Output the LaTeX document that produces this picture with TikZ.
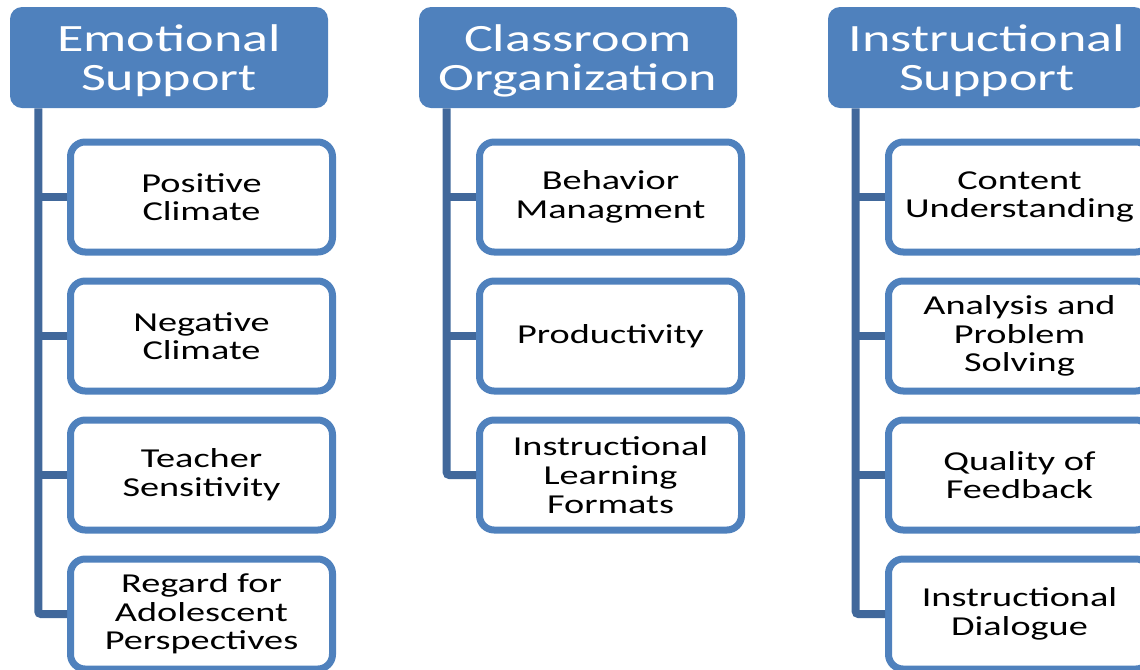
\documentclass[tikz,border=0pt]{standalone}
\usepackage{fontspec}
\setmainfont[FakeStretch=1.4]{Carlito}
\usetikzlibrary{positioning}
\definecolor{boxblue}{HTML}{4F81BD}
\definecolor{linkblue}{HTML}{41689B}

\begin{document}
\begin{tikzpicture}[x=0.75pt,y=-0.75pt,
    head/.style={fill=boxblue, rounded corners=9pt, minimum width=238.5pt, minimum height=75.75pt,
        inner sep=0pt, align=center, text=white, text depth=0pt,
        font=\fontsize{29}{29.5}\selectfont},
    item/.style={draw=boxblue, line width=5.25pt, fill=white, rounded corners=11pt,
        minimum width=196.5pt, minimum height=82.5pt, inner sep=0pt, align=center,
        font=\fontsize{20.5}{21.5}\selectfont},
    conn/.style={draw=linkblue, line width=6pt, rounded corners=2pt}]
        \clip (0,0) rectangle (1140,669);
        % headers
        \node[head] (es) at (169,57.5) {Emotional\\Support};
        \node[head] (co) at (578,57.5) {Classroom\\Organization};
        \node[head] (is) at (987,57.5) {Instructional\\Support};
        % drop points of the connectors
        \coordinate (es-c) at ([xshift=21.4pt]es.south west);
        \coordinate (co-c) at ([xshift=21pt]co.south west);
        \coordinate (is-c) at ([xshift=21pt]is.south west);
        % emotional support
        \node[item] (pc) at (201.5,197) {Positive\\Climate};
        \node[item] (nc) at (201.5,336) {Negative\\Climate};
        \node[item] (ts) at (201.5,475) {Teacher\\Sensitivity};
        \node[item] (rap) at (201.5,614) {Regard for\\Adolescent\\Perspectives};
        % classroom organization
        \node[item] (bm) at (610.5,197) {Behavior\\Managment};
        \node[item] (pr) at (610.5,336) {Productivity};
        \node[item] (ilf) at (610.5,475) {Instructional\\Learning\\Formats};
        % instructional support
        \node[item] (cu) at (1019.5,197) {Content\\Understanding};
        \node[item] (aps) at (1019.5,336) {Analysis and\\Problem\\Solving};
        \node[item] (qf) at (1019.5,475) {Quality of\\Feedback};
        \node[item] (id) at (1019.5,614) {Instructional\\Dialogue};
        % connectors
        \draw[conn] (es-c) |- (rap.west);
        \draw[conn] (es-c |- pc.west) -- (pc.west);
        \draw[conn] (es-c |- nc.west) -- (nc.west);
        \draw[conn] (es-c |- ts.west) -- (ts.west);
        \draw[conn] (co-c) |- (ilf.west);
        \draw[conn] (co-c |- bm.west) -- (bm.west);
        \draw[conn] (co-c |- pr.west) -- (pr.west);
        \draw[conn] (is-c) |- (id.west);
        \draw[conn] (is-c |- cu.west) -- (cu.west);
        \draw[conn] (is-c |- aps.west) -- (aps.west);
        \draw[conn] (is-c |- qf.west) -- (qf.west);
\end{tikzpicture}
\end{document}
